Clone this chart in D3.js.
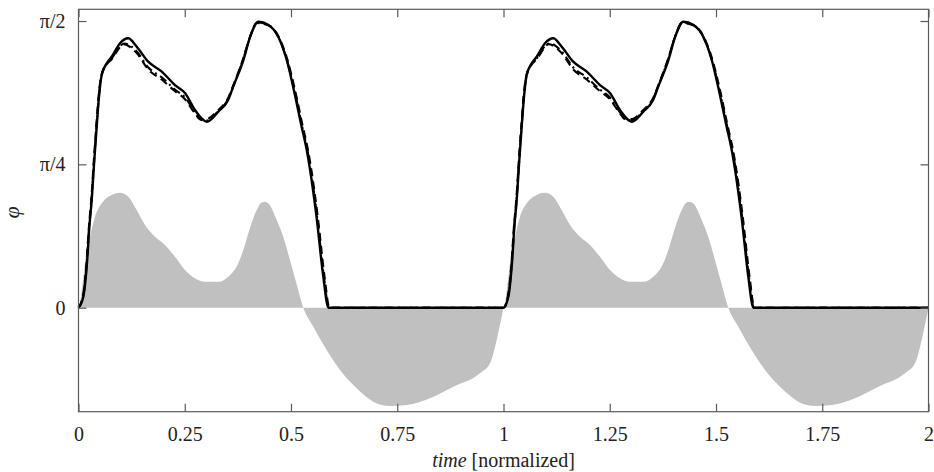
<!DOCTYPE html>
<html><head><meta charset="utf-8">
<script src="https://cdn.jsdelivr.net/npm/d3@7"></script>
<style>
html,body{margin:0;padding:0;background:#fff;}
svg{display:block;}
</style></head>
<body><svg id="chart" width="934" height="472"></svg>
<script>
// ---- data (one normalized cycle, drawn for two cycles) ----
const periods = [0, 1];
const xTicks = [0, 0.25, 0.5, 0.75, 1, 1.25, 1.5, 1.75, 2];
const xTickLabels = ["0", "0.25", "0.5", "0.75", "1", "1.25", "1.5", "1.75", "2"];
const yTicks = [0, Math.PI / 4, Math.PI / 2];
const yTickLabels = ["0", "π/4", "π/2"];

const solidT = [0, 0.0113, 0.0193, 0.0259, 0.0311, 0.0372, 0.0428, 0.0482, 0.0546, 0.0664, 0.0781, 0.0976, 0.117, 0.137, 0.164, 0.196, 0.227, 0.251, 0.274, 0.294, 0.302, 0.329, 0.352, 0.364, 0.388, 0.404, 0.423, 0.447, 0.470, 0.490, 0.505, 0.525, 0.537, 0.560, 0.576, 0.588];
const solidV = [0, 0.060, 0.225, 0.453, 0.590, 0.809, 0.992, 1.155, 1.275, 1.339, 1.375, 1.449, 1.476, 1.430, 1.348, 1.293, 1.220, 1.175, 1.083, 1.028, 1.019, 1.074, 1.138, 1.211, 1.357, 1.485, 1.567, 1.549, 1.485, 1.357, 1.211, 0.992, 0.864, 0.499, 0.170, 0];

const dashT = [0, 0.0104, 0.0183, 0.0249, 0.0301, 0.0362, 0.0418, 0.0472, 0.0536, 0.0654, 0.0788, 0.0976, 0.1054, 0.137, 0.1642, 0.1958, 0.2271, 0.2506, 0.2741, 0.2859, 0.300, 0.3282, 0.3518, 0.3635, 0.3871, 0.4035, 0.420, 0.4480, 0.4720, 0.4920, 0.5080, 0.5280, 0.5400, 0.5630, 0.5790, 0.5905];
const dashV = [0, 0.064, 0.228, 0.455, 0.592, 0.810, 0.993, 1.155, 1.272, 1.330, 1.364, 1.428, 1.444, 1.395, 1.305, 1.250, 1.186, 1.142, 1.064, 1.034, 1.033, 1.082, 1.148, 1.214, 1.362, 1.483, 1.560, 1.546, 1.480, 1.355, 1.207, 0.990, 0.864, 0.497, 0.168, 0];

const dashDotT = [0, 0.011, 0.0189, 0.0256, 0.0308, 0.0369, 0.0425, 0.0479, 0.0543, 0.0660, 0.0788, 0.0976, 0.1082, 0.137, 0.1642, 0.1958, 0.2271, 0.2506, 0.2741, 0.2882, 0.3024, 0.3282, 0.3518, 0.3635, 0.3871, 0.4035, 0.4212, 0.4470, 0.4705, 0.4905, 0.5065, 0.5265, 0.5385, 0.5615, 0.5775, 0.5893];
const dashDotV = [0, 0.062, 0.227, 0.454, 0.591, 0.810, 0.992, 1.155, 1.273, 1.334, 1.368, 1.434, 1.448, 1.404, 1.316, 1.262, 1.195, 1.152, 1.070, 1.028, 1.026, 1.076, 1.142, 1.210, 1.358, 1.483, 1.563, 1.548, 1.482, 1.356, 1.208, 0.990, 0.864, 0.497, 0.168, 0];

const greyT = [0, 0.0047, 0.0106, 0.0193, 0.0271, 0.0388, 0.0546, 0.0781, 0.0976, 0.1172, 0.1369, 0.1565, 0.18, 0.2035, 0.2271, 0.2506, 0.2741, 0.2976, 0.3289, 0.3525, 0.376, 0.3878, 0.4035, 0.4193, 0.4294, 0.4388, 0.4482, 0.4664, 0.4819, 0.4976, 0.5118, 0.5289, 0.5525, 0.584, 0.6153, 0.6546, 0.6936, 0.7329, 0.7722, 0.8271, 0.8819, 0.9447, 0.9682, 0.984, 0.9958, 1.0];
const greyV = [0, 0.042, 0.152, 0.316, 0.389, 0.499, 0.572, 0.618, 0.630, 0.608, 0.535, 0.453, 0.389, 0.344, 0.279, 0.207, 0.161, 0.142, 0.142, 0.170, 0.243, 0.316, 0.437, 0.535, 0.574, 0.581, 0.568, 0.481, 0.387, 0.261, 0.141, 0, -0.104, -0.232, -0.341, -0.442, -0.515, -0.539, -0.533, -0.496, -0.433, -0.359, -0.305, -0.177, -0.049, 0];

const yDomain = [-0.570, 1.635];
const xDomain = [0, 2];

// ---- layout ----
const W = 934, H = 472;
const m = {left: 78.5, right: 5.5, top: 9.3, bottom: 60.3};
const FONT = '"Liberation Serif"';
const svg = d3.select("#chart");
const x = d3.scaleLinear().domain(xDomain).range([m.left, W - m.right]);
const y = d3.scaleLinear().domain(yDomain).range([H - m.bottom, m.top]);

function twoCycles(T, V, closeAtOne) {
  const pts = [];
  periods.forEach(p => {
    T.forEach((t, i) => {
      const tt = t + p;
      if (pts.length && tt <= pts[pts.length - 1][0] + 1e-9) return;
      pts.push([tt, V[i]]);
    });
    if (closeAtOne && T[T.length - 1] < 1) pts.push([p + 1, 0]);
  });
  return pts;
}

const axisColor = "#5a5a5a";
const g = svg.append("g");

g.append("path")
  .datum(twoCycles(greyT, greyV, false))
  .attr("fill", "#c0c0c0")
  .attr("d", d3.area().x(d => x(d[0])).y0(y(0)).y1(d => y(d[1])).curve(d3.curveMonotoneX));

const line = d3.line().x(d => x(d[0])).y(d => y(d[1])).curve(d3.curveMonotoneX);
g.append("path").datum(twoCycles(dashT, dashV, true))
  .attr("fill", "none").attr("stroke", "#000").attr("stroke-width", 2.1)
  .attr("stroke-dasharray", "8,5").attr("d", line);
g.append("path").datum(twoCycles(dashDotT, dashDotV, true))
  .attr("fill", "none").attr("stroke", "#000").attr("stroke-width", 2.1)
  .attr("stroke-dasharray", "8,4,2,4").attr("d", line);
g.append("path").datum(twoCycles(solidT, solidV, true))
  .attr("fill", "none").attr("stroke", "#000").attr("stroke-width", 2.4)
  .attr("stroke-linejoin", "round").attr("d", line);

const x0 = x(xDomain[0]), x1 = x(xDomain[1]), yb = y(yDomain[0]), yt = y(yDomain[1]);
svg.append("rect").attr("x", x0).attr("y", yt).attr("width", x1 - x0).attr("height", yb - yt)
  .attr("fill", "none").attr("stroke", axisColor).attr("stroke-width", 1.2);

function styleAxis(sel) {
  sel.select(".domain").remove();
  sel.selectAll("line").attr("stroke", axisColor).attr("stroke-width", 1.2);
  sel.selectAll("text").style("font-family", FONT).style("font-size", "20px").attr("fill", "#222");
}

styleAxis(svg.append("g").attr("transform", `translate(0,${yb})`)
  .call(d3.axisBottom(x).tickValues(xTicks).tickFormat((d, i) => xTickLabels[i]).tickSizeInner(-8).tickSizeOuter(0).tickPadding(15.5)));
styleAxis(svg.append("g").attr("transform", `translate(0,${yt})`)
  .call(d3.axisTop(x).tickValues(xTicks).tickFormat("").tickSizeInner(-8).tickSizeOuter(0)));
styleAxis(svg.append("g").attr("transform", `translate(${x0},0)`)
  .call(d3.axisLeft(y).tickValues(yTicks).tickFormat((d, i) => yTickLabels[i]).tickSizeInner(-8).tickSizeOuter(0).tickPadding(13)));
styleAxis(svg.append("g").attr("transform", `translate(${x1},0)`)
  .call(d3.axisRight(y).tickValues(yTicks).tickFormat("").tickSizeInner(-8).tickSizeOuter(0)));

const xl = svg.append("text").attr("x", (x0 + x1) / 2).attr("y", 467)
  .attr("text-anchor", "middle").attr("fill", "#222")
  .style("font-family", FONT).style("font-size", "20px");
xl.append("tspan").style("font-style", "italic").text("time");
xl.append("tspan").text(" [normalized]");

svg.append("text").attr("transform", `translate(19,${(yt + yb) / 2 + 2}) rotate(-90)`)
  .attr("text-anchor", "middle").attr("fill", "#222")
  .style("font-family", FONT).style("font-size", "22px").style("font-style", "italic").text("φ");
</script></body></html>
